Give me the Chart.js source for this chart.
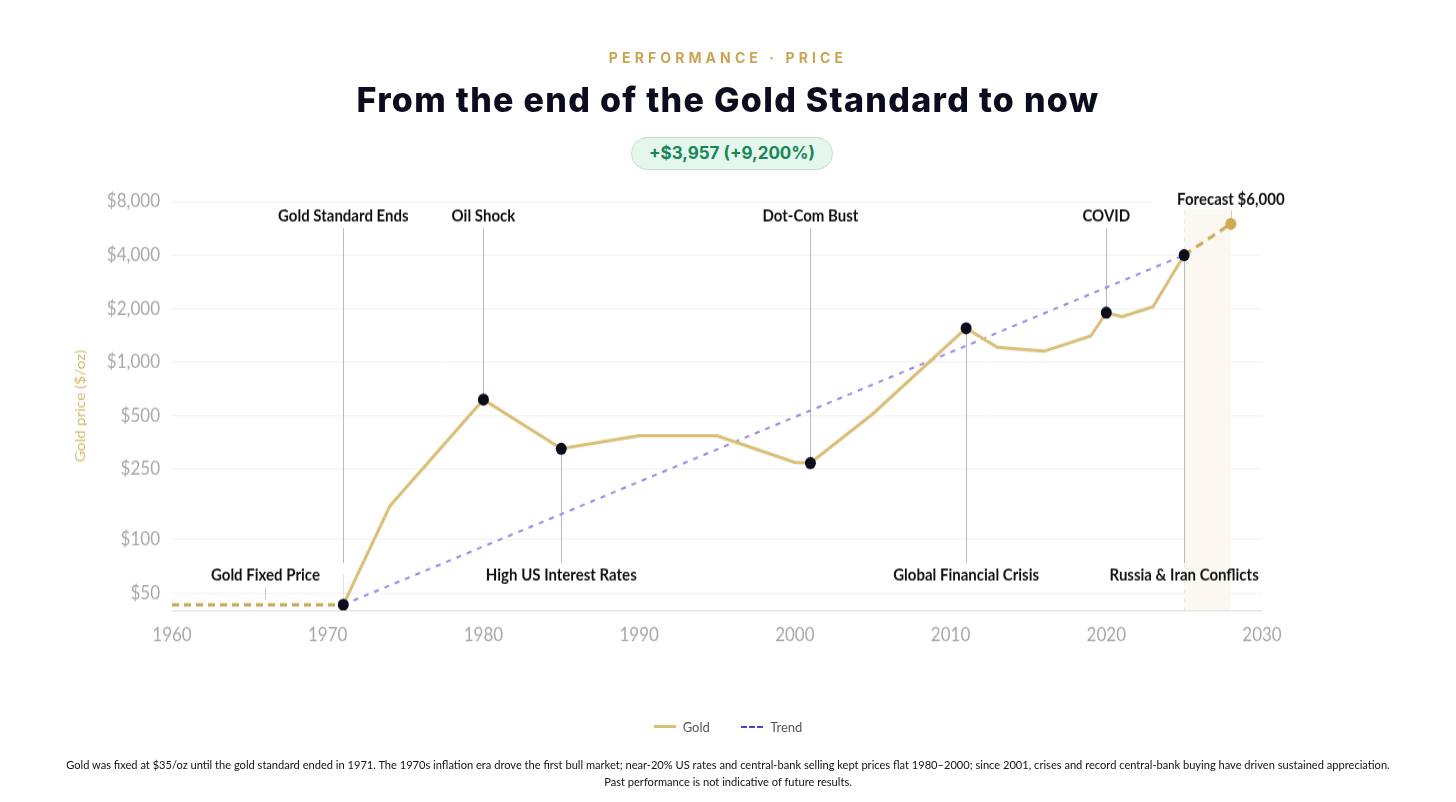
<!DOCTYPE html>
<html>
<head>
<meta charset="utf-8">
<script src="https://cdn.jsdelivr.net/npm/chart.js@4.4.1/dist/chart.umd.min.js"></script>
<style>
  html, body { margin: 0; padding: 0; background: #fff; }
  body { width: 1456px; height: 802px; position: relative; overflow: hidden; font-family: Lato, "Noto Sans", sans-serif; }
  #chart { position: absolute; left: 0; top: 0; width: 1456px; height: 802px; }
  .over { position: absolute; left: 0; width: 1456px; text-align: center; pointer-events: none; }
  #kicker { top: 49px; font-family: Inter, sans-serif; font-weight: 700; font-size: 14px; letter-spacing: 4.1px; color: #c9a553; }
  #title { top: 79px; font-family: Inter, sans-serif; font-weight: 800; font-size: 34px; color: #0b0d1f; letter-spacing: 1.3px; }
  #pill { position: absolute; left: 631px; top: 137px; width: 200px; height: 31px; border-radius: 17px;
          background: #e5f6ec; border: 1px solid #b9e4cb; color: #18855a; font-family: Inter, sans-serif;
          font-weight: 700; font-size: 17px; line-height: 31px; text-align: center; }
  #legend { top: 717px; font-size: 13px; color: #555; }
  #legend span { display: inline-block; vertical-align: middle; }
  .sw { width: 22px; height: 0; margin: 0 7px 0 0; }
  #footer { top: 756px; font-size: 11.1px; line-height: 17px; color: #111; }
</style>
</head>
<body>
<canvas id="chart"></canvas>
<div class="over" id="kicker">PERFORMANCE · PRICE</div>
<div class="over" id="title">From the end of the Gold Standard to now</div>
<div id="pill">+$3,957 (+9,200%)</div>
<div class="over" id="legend">
  <span class="sw" style="border-top: 3px solid #d9bf77;"></span><span>Gold</span>
  <span class="sw" style="border-top: 2px dashed #4343d8; margin-left: 28px;"></span><span>Trend</span>
</div>
<div class="over" id="footer">Gold was fixed at $35/oz until the gold standard ended in 1971. The 1970s inflation era drove the first bull market; near-20% US rates and central-bank selling kept prices flat 1980–2000; since 2001, crises and record central-bank buying have driven sustained appreciation.<br>Past performance is not indicative of future results.</div>
<script>
// gold price history ($/oz)
const years = [1971, 1974, 1980, 1985, 1990, 1995, 2000, 2001, 2005, 2011, 2013, 2016, 2019, 2020, 2021, 2023, 2025];
const prices = [43, 155, 615, 325, 385, 385, 272, 270, 510, 1550, 1210, 1150, 1400, 1895, 1800, 2050, 4000];

const fixedYears = [1960, 1971];
const fixedPrices = [43, 43];

const forecastYears = [2025, 2028];
const forecastPrices = [4000, 6000];

const trendYears = [1971, 2025];
const trendPrices = [43, 4000];

const yTicks = [50, 100, 250, 500, 1000, 2000, 4000, 8000];

const eventLabels = ['Gold Standard Ends', 'Oil Shock', 'High US Interest Rates', 'Dot-Com Bust',
    'Global Financial Crisis', 'COVID', 'Russia & Iran Conflicts'];
const eventYears = [1971, 1980, 1985, 2001, 2011, 2020, 2025];
const eventSides = ['top', 'top', 'bottom', 'top', 'bottom', 'top', 'bottom'];

const fixedLabel = 'Gold Fixed Price';
const fixedLabelYear = 1966;
const forecastLabel = 'Forecast $6,000';

const GOLD = '#d9bf77';
const GOLD_DARK = '#d2a957';

function toPoints(xs, ys) {
    return xs.map((x, i) => ({ x: x, y: ys[i] }));
}

function priceAt(year) {
    return prices[years.indexOf(year)];
}

const eventPoints = eventYears.map(y => ({ x: y, y: priceAt(y) }));

function fmtMoney(v) {
    return '$' + v.toLocaleString('en-US');
}

const annotations = {
    id: 'annotations',
    beforeDatasetsDraw(chart) {
        const ctx = chart.ctx;
        const area = chart.chartArea;
        const xs = chart.scales.x;
        const ys = chart.scales.y;
        ctx.save();
        // forecast band
        const bx0 = xs.getPixelForValue(forecastYears[0]);
        const bx1 = xs.getPixelForValue(forecastYears[1]);
        ctx.fillStyle = '#faf8f0';
        ctx.fillRect(bx0, area.top, bx1 - bx0, area.bottom - area.top);
        ctx.strokeStyle = '#ece8da';
        ctx.lineWidth = 1;
        ctx.setLineDash([4, 4]);
        ctx.beginPath();
        ctx.moveTo(bx0 + 0.5, area.top);
        ctx.lineTo(bx0 + 0.5, area.bottom);
        ctx.stroke();
        ctx.setLineDash([]);

        // event leader lines
        ctx.strokeStyle = '#b8b8bf';
        ctx.lineWidth = 1;
        eventYears.forEach((yr, i) => {
            const px = Math.round(xs.getPixelForValue(yr)) + 0.5;
            const py = ys.getPixelForValue(priceAt(yr));
            ctx.beginPath();
            if (eventSides[i] === 'top') {
                ctx.moveTo(px, area.top + 24);
                ctx.lineTo(px, Math.min(py, area.bottom - 43));
            } else {
                ctx.moveTo(px, py);
                ctx.lineTo(px, area.bottom - 43);
            }
            ctx.stroke();
        });
        // faint tail of the 1971 line below the bottom label row
        const p71 = Math.round(xs.getPixelForValue(eventYears[0])) + 0.5;
        ctx.strokeStyle = '#e4e4e8';
        ctx.beginPath();
        ctx.moveTo(p71, area.bottom - 33);
        ctx.lineTo(p71, ys.getPixelForValue(priceAt(eventYears[0])));
        ctx.stroke();

        // fixed price tick
        const fx = Math.round(xs.getPixelForValue(fixedLabelYear)) + 0.5;
        ctx.strokeStyle = '#c8c8cc';
        ctx.beginPath();
        ctx.moveTo(fx, area.bottom - 21);
        ctx.lineTo(fx, area.bottom - 10);
        ctx.stroke();

        // forecast tick
        const fcx = Math.round(xs.getPixelForValue(forecastYears[1])) + 0.5;
        ctx.beginPath();
        ctx.moveTo(fcx, area.top + 8);
        ctx.lineTo(fcx, area.top + 18);
        ctx.stroke();
        ctx.restore();
    },
    afterDatasetsDraw(chart) {
        const ctx = chart.ctx;
        const area = chart.chartArea;
        const xs = chart.scales.x;
        ctx.save();
        ctx.font = 'bold 15px Lato, sans-serif';
        ctx.textAlign = 'center';
        ctx.textBaseline = 'middle';
        ctx.fillStyle = '#111';
        eventYears.forEach((yr, i) => {
            const px = xs.getPixelForValue(yr);
            const py = eventSides[i] === 'top' ? area.top + 13 : area.bottom - 32;
            ctx.fillText(eventLabels[i], px, py);
        });
        ctx.fillText(fixedLabel, xs.getPixelForValue(fixedLabelYear), area.bottom - 32);
        const fcx = xs.getPixelForValue(forecastYears[1]);
        const w = ctx.measureText(forecastLabel).width;
        ctx.fillStyle = '#fff';
        ctx.fillRect(fcx - w / 2 - 24, area.top - 10, w + 48, 17);
        ctx.fillStyle = '#111';
        ctx.fillText(forecastLabel, fcx, area.top - 2);
        ctx.restore();
    }
};

const chart = new Chart(document.getElementById('chart'), {
    type: 'line',
    data: {
        datasets: [
            {
                label: 'Events',
                data: eventPoints,
                showLine: false,
                pointRadius: 5.5,
                pointBackgroundColor: '#0a0d1c',
                pointBorderWidth: 0,
                order: 0
            },
            {
                label: 'Forecast point',
                data: [{ x: forecastYears[1], y: forecastPrices[1] }],
                showLine: false,
                pointRadius: 5.5,
                pointBackgroundColor: GOLD_DARK,
                pointBorderWidth: 0,
                order: 0
            },
            {
                label: 'Gold',
                data: toPoints(years, prices),
                borderColor: GOLD,
                borderWidth: 3,
                pointRadius: 0,
                tension: 0,
                order: 1
            },
            {
                label: 'Forecast',
                data: toPoints(forecastYears, forecastPrices),
                borderColor: GOLD_DARK,
                borderWidth: 3,
                borderDash: [8, 6],
                pointRadius: 0,
                order: 2
            },
            {
                label: 'Fixed',
                data: toPoints(fixedYears, fixedPrices),
                borderColor: '#c9a856',
                borderWidth: 3,
                borderDash: [7, 5],
                pointRadius: 0,
                order: 2
            },
            {
                label: 'Trend',
                data: toPoints(trendYears, trendPrices),
                borderColor: '#9a8be6',
                borderWidth: 2,
                borderDash: [5, 6],
                pointRadius: 0,
                order: 3
            }
        ]
    },
    options: {
        responsive: false,
        animation: false,
        maintainAspectRatio: false,
        layout: { padding: { left: 68, right: 194, top: 183, bottom: 138 } },
        plugins: {
            legend: { display: false },
            tooltip: { enabled: false }
        },
        scales: {
            x: {
                type: 'linear',
                min: 1960,
                max: 2030,
                afterFit: s => { s.height = 36; },
                grid: { display: false, drawTicks: false },
                border: { display: true, color: '#dedede', width: 1 },
                ticks: {
                    stepSize: 10,
                    padding: 12,
                    color: '#a8a8a8',
                    font: { family: 'Lato', size: 17 },
                    callback: v => String(v)
                }
            },
            y: {
                type: 'logarithmic',
                min: 40,
                max: 8000,
                afterFit: s => { s.width = 104; },
                afterBuildTicks: s => { s.ticks = yTicks.map(v => ({ value: v })); },
                grid: { color: '#f0f0f0', drawTicks: false },
                border: { display: false },
                ticks: {
                    padding: 12,
                    color: '#a8a8a8',
                    font: { family: 'Lato', size: 17 },
                    callback: v => fmtMoney(v)
                },
                title: {
                    display: true,
                    text: 'Gold price ($/oz)',
                    color: '#d6b96c',
                    font: { family: 'Lato', size: 14 },
                    padding: { top: 4, bottom: 0 }
                }
            }
        }
    },
    plugins: [annotations]
});
chart.canvas.style.width = '1456px';
chart.canvas.style.height = '802px';
</script>
</body>
</html>
